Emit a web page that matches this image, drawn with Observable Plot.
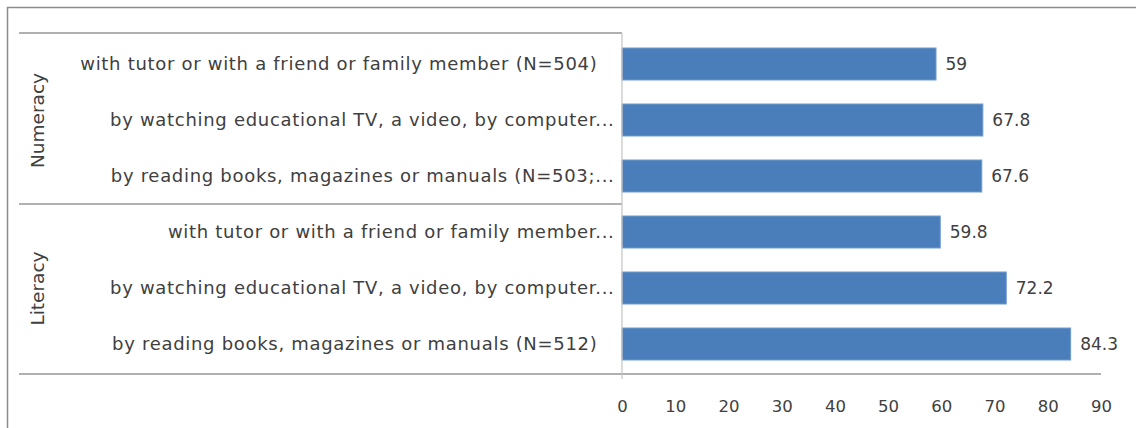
<!DOCTYPE html>
<html>
<head>
<meta charset="utf-8">
<script src="https://cdn.jsdelivr.net/npm/d3@7"></script>
<script src="https://cdn.jsdelivr.net/npm/@observablehq/plot@0.6"></script>
<style>
  html, body { margin: 0; padding: 0; background: #fff; }
  #chart svg { display: block; }
</style>
</head>
<body>
<div id="chart"></div>
<script>
const ids = ["n1", "n2", "n3", "l1", "l2", "l3"];
const groups = ["Numeracy", "Numeracy", "Numeracy", "Literacy", "Literacy", "Literacy"];
const labels = [
  "with tutor or with a friend or family member (N=504)",
  "by watching educational TV, a video, by computer...",
  "by reading books, magazines or manuals (N=503;...",
  "with tutor or with a friend or family member...",
  "by watching educational TV, a video, by computer...",
  "by reading books, magazines or manuals (N=512)"
];
const values = [59, 67.8, 67.6, 59.8, 72.2, 84.3];
const groupNames = ["Numeracy", "Literacy"];
const groupMid = ["n2", "l2"];
const xTicks = [0, 10, 20, 30, 40, 50, 60, 70, 80, 90];

const rows = ids.map((id, i) => ({id, group: groups[i], label: labels[i], value: values[i]}));
const groupRows = groupNames.map((g, i) => ({name: g, mid: groupMid[i]}));

const FONT = "'DejaVu Sans', sans-serif";
const TXT = "#404040";

function frameLines(index, scales, values, dims) {
  const y = scales.y;
  const top = dims.marginTop;
  const bottom = dims.height - dims.marginBottom;
  const left = dims.marginLeft;
  const right = dims.width - dims.marginRight;
  const p = y.paddingInner();
  const split = y(ids[3]) - y.step() * p / 2;
  const g = d3.create("svg:g");
  g.append("path").attr("d", `M7.5,${dims.height}V7.5H${dims.width}`)
    .attr("fill", "none").attr("stroke", "#8c8c8c").attr("stroke-width", 1.5);
  [[top, left], [split, left], [bottom, right]].forEach(([yy, x2]) => {
    g.append("line").attr("x1", 19).attr("x2", x2).attr("y1", yy).attr("y2", yy)
      .attr("stroke", "#b0b0b0").attr("stroke-width", 2);
  });
  g.append("line").attr("x1", left).attr("x2", left).attr("y1", top).attr("y2", bottom + 5)
    .attr("stroke", "#c4c4c4").attr("stroke-width", 1.2);
  return g.node();
}

const fullLabel = d => d.label.endsWith(")");

const chart = Plot.plot({
  width: 1136,
  height: 428,
  marginLeft: 622,
  marginRight: 35,
  marginTop: 33,
  marginBottom: 54,
  style: {fontFamily: FONT, background: "#fff"},
  x: {domain: [0, 90], ticks: xTicks, label: null},
  y: {domain: ids, paddingInner: 0.43, paddingOuter: 0.215, axis: null},
  marks: [
    Plot.barX(rows, {x: "value", y: "id", fill: "#4a7ebb", stroke: "#6f9bd0", strokeWidth: 1}),
    frameLines,
    Plot.axisX({ticks: xTicks, tickSize: 0, tickPadding: 26, fontSize: 16.5, fill: TXT, label: null,
      tickFormat: d => String(d)}),
    Plot.text(rows, {filter: fullLabel, y: "id", text: "label", frameAnchor: "left", textAnchor: "end", dx: -25,
      fontSize: 18, fill: TXT}),
    Plot.text(rows, {filter: d => !fullLabel(d), y: "id", text: "label", frameAnchor: "left", textAnchor: "end", dx: -8,
      fontSize: 18, fill: TXT}),
    Plot.text(rows, {x: "value", y: "id", text: d => String(d.value), textAnchor: "start", dx: 9,
      fontSize: 17, fill: TXT}),
    Plot.text(groupRows, {y: "mid", text: "name", frameAnchor: "left", dx: -584, rotate: -90,
      textAnchor: "middle", fontSize: 18.5, fill: TXT})
  ]
});
// widen the category labels' spacing like the reference
const textGroups = chart.querySelectorAll("g[aria-label='text']");
if (textGroups.length > 1) {
  textGroups[0].setAttribute("letter-spacing", "0.7");
  textGroups[1].setAttribute("letter-spacing", "0.7");
}
document.getElementById("chart").appendChild(chart);
</script>
</body>
</html>
